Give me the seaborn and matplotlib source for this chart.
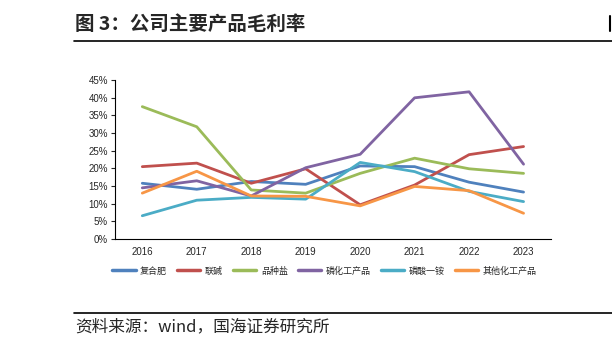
import matplotlib
matplotlib.use('Agg')
import matplotlib.pyplot as plt
import seaborn as sns
import pandas as pd
from matplotlib.lines import Line2D
from matplotlib.ticker import FuncFormatter

years = ['2016', '2017', '2018', '2019', '2020', '2021', '2022', '2023']
fuhefei = [15.8, 14.1, 16.3, 15.5, 20.7, 20.5, 16.1, 13.3]
lianjian = [20.5, 21.5, 15.8, 19.9, 9.7, 15.3, 23.9, 26.2]
pinzhongyan = [37.5, 31.8, 13.9, 13.0, 18.6, 22.9, 19.9, 18.6]
linhuagong = [14.5, 16.5, 12.2, 20.2, 24.0, 40.0, 41.7, 21.2]
linsuanyian = [6.6, 11.0, 11.8, 11.3, 21.7, 19.1, 13.5, 10.6]
qita = [13.0, 19.2, 12.2, 12.1, 9.4, 14.9, 13.7, 7.3]

names = ['复合肥', '联碱', '品种盐', '磷化工产品', '磷酸一铵', '其他化工产品']
colors = ['#4F81BD', '#C0504D', '#9BBB59', '#8064A2', '#4BACC6', '#F79646']

sns.set_style('white')
plt.rcParams['font.family'] = ['Noto Sans CJK SC', 'DejaVu Sans']

rows = []
for name, vals in zip(names, [fuhefei, lianjian, pinzhongyan, linhuagong, linsuanyian, qita]):
    for y, v in zip(years, vals):
        rows.append({'year': y, 'product': name, 'value': v})
df = pd.DataFrame(rows)
df['pos'] = df['year'].map({y: i for i, y in enumerate(years)})

fig = plt.figure(figsize=(6.12, 3.5), dpi=100)
ax = fig.add_axes([0.188, 0.317, 0.712, 0.454])

sns.lineplot(data=df, x='pos', y='value', hue='product', hue_order=names,
             palette=colors, linewidth=2.0, ax=ax, legend=False)

ax.set_xlim(-0.5, len(years) - 0.5)
ax.set_ylim(0, 45)
ax.set_yticks(range(0, 50, 5))
ax.yaxis.set_major_formatter(FuncFormatter(lambda v, p: f'{int(v)}%'))
ax.set_xticks(range(len(years)))
ax.set_xticklabels(years)
ax.set_xticks([i - 0.5 for i in range(len(years) + 1)], minor=True)
ax.tick_params(axis='x', which='major', length=0, labelsize=7, pad=6)
ax.tick_params(axis='x', which='minor', length=3, width=0.8, direction='in', color='black')
ax.tick_params(axis='y', length=3, width=0.8, direction='out', labelsize=7, pad=2, left=True)
for lab in ax.get_xticklabels() + ax.get_yticklabels():
    lab.set_family(['Liberation Sans', 'DejaVu Sans'])
ax.set_xlabel('')
ax.set_ylabel('')
sns.despine(ax=ax)
ax.spines['left'].set_color('black')
ax.spines['bottom'].set_color('black')
ax.spines['left'].set_linewidth(0.8)
ax.spines['bottom'].set_linewidth(0.8)

handles = [Line2D([0], [0], color=c, lw=2.5) for c in colors]
fig.legend(handles, names, loc='center', bbox_to_anchor=(0.53, 1 - 271 / 350),
           ncol=6, frameon=False, fontsize=6.5, handlelength=2.6,
           columnspacing=1.1, handletextpad=0.5)

# header and footer
fig.text(75 / 612, 1 - 24 / 350, '图 3：公司主要产品毛利率', fontsize=14,
         fontweight='bold', va='center', ha='left')
fig.add_artist(Line2D([74 / 612, 1], [1 - 40.5 / 350] * 2, color='black', lw=1.2))
fig.add_artist(Line2D([74 / 612, 1], [1 - 313 / 350] * 2, color='black', lw=1.2))
fig.text(75 / 612, 1 - 327 / 350, '资料来源：wind，国海证券研究所', fontsize=12,
         va='center', ha='left')
fig.add_artist(Line2D([610 / 612, 610 / 612], [1 - 16 / 350, 1 - 31 / 350], color='black', lw=1.5))

fig.savefig('out.png', dpi=100)
